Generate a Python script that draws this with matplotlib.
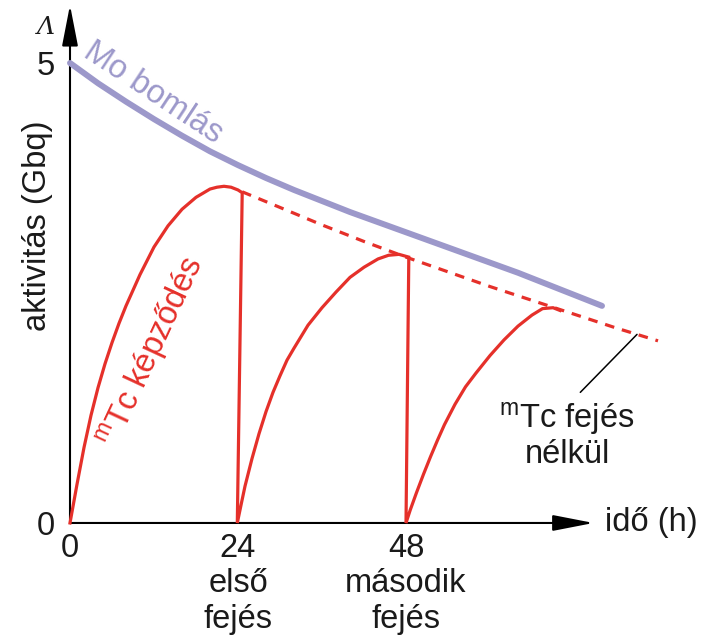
import matplotlib
matplotlib.use('Agg')
from matplotlib import pyplot as plt

plt.rcParams['font.family'] = ['Liberation Sans', 'DejaVu Sans']
plt.rcParams['mathtext.fontset'] = 'custom'
plt.rcParams['mathtext.rm'] = 'Liberation Sans'
plt.rcParams['mathtext.it'] = 'Liberation Sans:italic'

# Mo bomlás (lila görbe)
mo_t = [0, 4, 8, 12, 16, 20, 24, 28, 32, 36, 40, 44, 48, 52, 56, 60, 64, 68, 72, 76]
mo_a = [5.00, 4.78, 4.58, 4.39, 4.21, 4.04, 3.89, 3.75, 3.62, 3.50, 3.38,
        3.27, 3.16, 3.05, 2.94, 2.83, 2.72, 2.60, 2.48, 2.36]

# mTc fejés nélkül (szaggatott)
nofej_t = [24.6, 30, 36, 42, 48, 54, 60, 66, 72, 78, 84]
nofej_a = [3.60, 3.43, 3.24, 3.06, 2.89, 2.73, 2.57, 2.42, 2.27, 2.12, 1.98]

# mTc képződés fejésekkel (folytonos piros): 3 szakasz
tc1_t = [0, 1, 2, 3, 4, 5, 6, 7, 8, 10, 12, 14, 16, 18, 20, 21, 22, 23, 24, 24.6]
tc1_a = [0, 0.42, 0.82, 1.17, 1.47, 1.73, 1.96, 2.17, 2.36, 2.70, 3.00, 3.23,
         3.41, 3.54, 3.63, 3.65, 3.66, 3.65, 3.62, 3.59]
tc2_t = [23.9, 24.5, 25, 26, 27, 28, 29, 30, 31, 32, 34, 36, 38, 40, 42, 44,
         45.5, 47, 48.4]
tc2_a = [0, 0.22, 0.40, 0.70, 0.97, 1.21, 1.42, 1.60, 1.77, 1.90, 2.15, 2.34,
         2.51, 2.67, 2.78, 2.87, 2.91, 2.92, 2.89]
tc3_t = [48.0, 48.6, 49.5, 50.5, 51.5, 52.5, 53.5, 55, 56.5, 58, 60, 62, 64,
         66, 67.5, 69, 70]
tc3_a = [0, 0.14, 0.33, 0.53, 0.72, 0.90, 1.07, 1.29, 1.48, 1.63, 1.82, 1.99,
         2.14, 2.26, 2.33, 2.34, 2.31]

x_ticks = [0, 24, 48]
x_labels = ['0', '24\nelső\nfejés', '48\nmásodik\nfejés']
y_ticks = [0, 5]
y_labels = ['0', '5']

red = '#e5302a'
purple = '#9c98ca'
txt = '#1a1a1a'
fs = 23.5

fig = plt.figure(figsize=(7.11, 6.41), dpi=100)
ax = fig.add_axes([0, 0, 1, 1])
ax.set_xlim(-10, 91.57)
ax.set_ylim(-1.283, 5.685)

for s in ax.spines.values():
    s.set_visible(False)
ax.spines['left'].set_position(('data', 0))
ax.spines['bottom'].set_position(('data', 0))

ax.set_xticks(x_ticks, x_labels)
ax.set_yticks(y_ticks, y_labels)
ax.tick_params(length=0, labelsize=fs, colors=txt)
ax.tick_params(axis='x', pad=7)
ax.tick_params(axis='y', pad=11)
for lab in ax.get_xticklabels():
    lab.set_linespacing(1.2)

# tengelyek nyíllal
arr = dict(arrowstyle='-|>,head_length=1.8,head_width=0.35', color='black',
           lw=1.5, mutation_scale=14, shrinkA=0, shrinkB=0)
ax.annotate('', xy=(74.8, 0), xytext=(0, 0), arrowprops=arr)
ax.annotate('', xy=(0, 5.63), xytext=(0, 0), arrowprops=arr)

ax.plot(mo_t, mo_a, color=purple, lw=4.3, solid_capstyle='round', zorder=3)
ax.plot(nofej_t, nofej_a, color=red, lw=2.3, dashes=(3.0, 2.5), zorder=3)
# fejés: függőleges esés a görbe végéről a következő kezdőpontig
ax.plot(tc1_t + tc2_t + tc3_t, tc1_a + tc2_a + tc3_a, color=red, lw=2.3,
        solid_joinstyle='miter', zorder=4)

# feliratok
ax.text(76.4, 0, 'idő (h)', fontsize=fs, ha='left', va='center', color=txt)
ax.text(-4.6, 3.23, 'aktivitás (Gbq)', fontsize=fs, rotation=90,
        ha='center', va='center', color=txt)
ax.text(-3.4, 5.31, 'Λ', fontsize=18, family='DejaVu Serif', style='italic',
        ha='center', va='baseline', color=txt)
ax.text(11.9, 4.67, 'Mo bomlás', fontsize=fs, rotation=-33.5, color=purple,
        ha='center', va='center', rotation_mode='anchor')
ax.text(11.7, 1.86, r'$^{\mathrm{m}}$Tc képződés', fontsize=fs, rotation=65,
        color=red, ha='center', va='center', rotation_mode='anchor')

ax.annotate('', xy=(81, 2.05), xytext=(72.9, 1.42),
            arrowprops=dict(arrowstyle='-', color='black', lw=1.1,
                            shrinkA=0, shrinkB=0))
ax.text(71, 1.04, r'$^{\mathrm{m}}$Tc fejés', fontsize=fs, ha='center',
        va='baseline', color=txt)
ax.text(71, 0.65, 'nélkül', fontsize=fs, ha='center', va='baseline', color=txt)

fig.savefig('out.png', dpi=100)
